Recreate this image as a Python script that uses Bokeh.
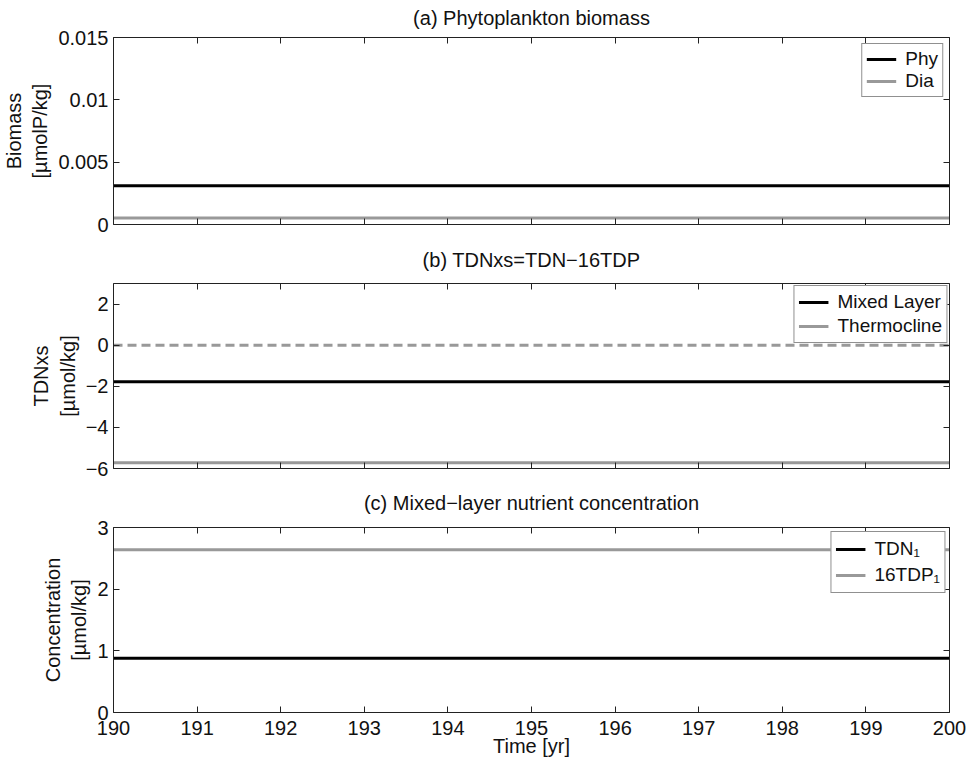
from bokeh.plotting import figure
from bokeh.layouts import column
from bokeh.models import (LinearAxis, FixedTicker, Range1d, Legend, LegendItem,
                          CustomLabelingPolicy)
from bokeh.embed import file_html
from bokeh.resources import INLINE

# ---- data ----
time = [190, 200]
phy = [0.0031, 0.0031]
dia = [0.00052, 0.00052]
mixed_layer = [-1.78, -1.78]
thermocline = [-5.72, -5.72]
zero_ref = [0.0, 0.0]
tdn1 = [0.88, 0.88]
tdp16_1 = [2.64, 2.64]

x_ticks = list(range(190, 201))
a_ticks = [0, 0.005, 0.01, 0.015]
a_labels = ["0", "0.005", "0.01", "0.015"]
b_ticks = [-6, -4, -2, 0, 2]
b_labels = ["\u22126", "\u22124", "\u22122", "0", "2"]
c_ticks = [0, 1, 2, 3]
c_labels = ["0", "1", "2", "3"]

FONT = "Liberation Sans"
BLACK = "#000000"
GRAY = "#999999"
TXT = "#111111"
W = 975

NO_LABELS = "for (const i of [...indices.ones()]) { indices.unset(i) } return indices"


def style_axis(ax, show_labels):
    ax.major_tick_in = 6
    ax.major_tick_out = 0
    ax.minor_tick_line_color = None
    ax.axis_line_color = "#222222"
    ax.major_tick_line_color = "#222222"
    ax.major_label_text_font = FONT
    ax.major_label_text_color = TXT
    ax.axis_label_text_font = FONT
    ax.axis_label_text_font_style = "normal"
    ax.axis_label_text_font_size = "20px"
    ax.axis_label_text_color = TXT
    if show_labels:
        ax.major_label_text_font_size = "20px"
        ax.major_label_standoff = 5
    else:
        ax.major_label_text_font_size = "0px"
        ax.major_label_policy = CustomLabelingPolicy(code=NO_LABELS)
        ax.major_label_standoff = 0


def make_fig(height, top, bottom, title, title_gap, yr, yt, yl, ylabel, xlabels, xlabel=None):
    p = figure(width=W, height=height, output_backend="svg", toolbar_location=None,
               x_range=Range1d(190, 200), y_range=Range1d(*yr),
               min_border_left=112, min_border_right=26,
               min_border_top=top, min_border_bottom=bottom,
               title=title, x_axis_location=None, y_axis_location=None)
    p.title.align = "center"
    p.title.vertical_align = "top"
    p.title.text_font = FONT
    p.title.text_font_style = "normal"
    p.title.text_font_size = "20px"
    p.title.text_color = TXT
    p.title.standoff = title_gap
    p.xgrid.visible = False
    p.ygrid.visible = False
    p.outline_line_color = None
    p.background_fill_color = "white"

    bx = LinearAxis(ticker=FixedTicker(ticks=x_ticks))
    style_axis(bx, xlabels)
    if xlabel:
        bx.axis_label = xlabel
        bx.major_label_standoff = 8
        bx.axis_label_standoff = -3
    p.add_layout(bx, "below")
    tx = LinearAxis(ticker=FixedTicker(ticks=x_ticks))
    style_axis(tx, False)
    p.add_layout(tx, "above")

    ly = LinearAxis(ticker=FixedTicker(ticks=yt), axis_label=ylabel)
    ly.major_label_overrides = dict(zip(yt, yl))
    style_axis(ly, True)
    ly.axis_label_standoff = 4
    p.add_layout(ly, "left")
    ry = LinearAxis(ticker=FixedTicker(ticks=yt))
    style_axis(ry, False)
    p.add_layout(ry, "right")
    return p


def add_legend(p, items, margin, row_h):
    leg = Legend(items=items, location="top_right")
    leg.label_text_font = FONT
    leg.label_text_font_size = "19px"
    leg.label_text_color = TXT
    leg.border_line_color = "#222222"
    leg.border_line_width = 1
    leg.glyph_width = 30
    leg.glyph_height = row_h
    leg.label_height = row_h
    leg.spacing = 0
    leg.padding = 4
    leg.label_standoff = 9
    leg.margin = margin
    leg.background_fill_alpha = 1.0
    p.add_layout(leg)


# ---- panel (a) ----
pa = make_fig(237, 37, 13, "(a) Phytoplankton biomass", 13, (0, 0.015), a_ticks, a_labels,
              "Biomass\n[\u00b5molP/kg]", False)
r1 = pa.line(time, phy, line_color=BLACK, line_width=3)
r2 = pa.line(time, dia, line_color=GRAY, line_width=3)
add_legend(pa, [LegendItem(label="Phy", renderers=[r1]),
                LegendItem(label="Dia", renderers=[r2])], 6, 18)

# ---- panel (b) ----
pb = make_fig(241, 46, 10, "(b) TDNxs=TDN\u221216TDP", 21, (-6, 3), b_ticks, b_labels,
              "TDNxs\n[\u00b5mol/kg]", False)
pb.line(time, zero_ref, line_color=GRAY, line_width=3, line_dash="9 5")
r3 = pb.line(time, mixed_layer, line_color=BLACK, line_width=3)
r4 = pb.line(time, thermocline, line_color=GRAY, line_width=3)
add_legend(pb, [LegendItem(label="Mixed Layer", renderers=[r3]),
                LegendItem(label="Thermocline", renderers=[r4])], 2, 24)

# ---- panel (c) ----
pc = make_fig(284, 49, 50, "(c) Mixed\u2212layer nutrient concentration", 24, (0, 3), c_ticks, c_labels,
              "Concentration\n[\u00b5mol/kg]", True, "Time [yr]")
r5 = pc.line(time, tdn1, line_color=BLACK, line_width=3)
r6 = pc.line(time, tdp16_1, line_color=GRAY, line_width=3)
add_legend(pc, [LegendItem(label="TDN\u2081", renderers=[r5]),
                LegendItem(label="16TDP\u2081", renderers=[r6])], 4, 26)

layout = column(pa, pb, pc, spacing=0)
open("out.html", "w").write(file_html(layout, INLINE))
